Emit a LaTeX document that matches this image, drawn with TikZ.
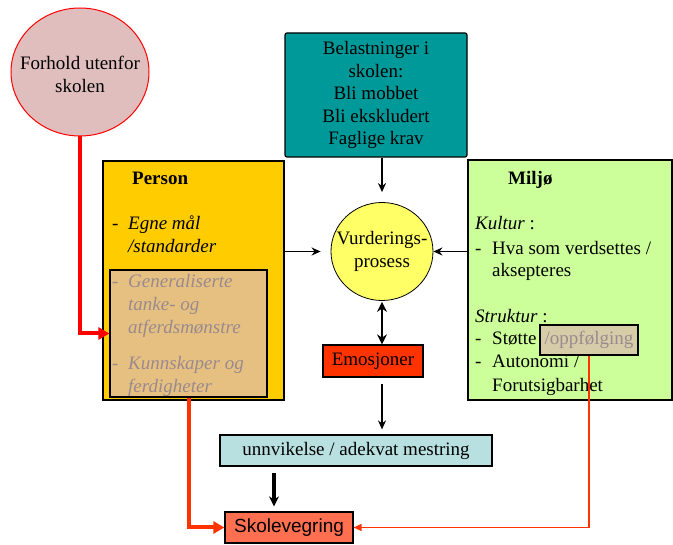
\documentclass[tikz,border=0pt]{standalone}
\usepackage{fontspec}
\setmainfont{Liberation Serif}
\newfontfamily\arialfont{Liberation Sans}
\usetikzlibrary{arrows.meta,shapes.geometric}

\definecolor{rosa}{HTML}{E0BEBE}
\definecolor{teal}{HTML}{009999}
\definecolor{gul}{HTML}{FFCC00}
\definecolor{brun}{HTML}{E6C080}
\definecolor{graatekst}{HTML}{9A8A90}
\definecolor{lysgronn}{HTML}{CCFF99}
\definecolor{beige}{HTML}{D6CCA8}
\definecolor{lysgul}{HTML}{FFFF66}
\definecolor{emorod}{HTML}{FF3300}
\definecolor{lysbla}{HTML}{B8E0E0}
\definecolor{laks}{HTML}{FF6F50}
\definecolor{orangerod}{HTML}{FF3300}

\begin{document}
\begin{tikzpicture}[
x=1pt, y=-1pt,
boks/.style={
  draw=black,
  line width=1.2pt,
  inner sep=0pt,
  font=\fontsize{19}{22.5}\selectfont
},
linje/.style={anchor=base west,inner sep=0pt,font=\fontsize{19}{22.5}\selectfont},
graa/.style={linje,text=graatekst,font=\fontsize{19}{22.5}\selectfont\itshape},
pil/.style={-{Stealth[length=9pt,width=8pt]},line width=1.8pt},
dobbelpil/.style={{Stealth[length=10pt,width=10pt]}-{Stealth[length=10pt,width=10pt]},line width=2.2pt},
tykkpil/.style={-{Stealth[length=10pt,width=10pt]},line width=4pt},
rodpil/.style={-{Triangle[length=11pt,width=12pt]},line width=4pt},
tynnpil/.style={-{Triangle[length=8pt,width=7pt]},line width=1.4pt,draw=orangerod}
]
\useasboundingbox (0,0) rectangle (673,545);

% ytre forhold
\node (ytre) at (80,72) [ellipse,draw=red,line width=1pt,fill=rosa,inner sep=0pt,
  minimum width=138,minimum height=128] {};
\node (ytretekst) at (80,74) [font=\fontsize{19}{23}\selectfont,align=center] {Forhold utenfor\\skolen};

% belastninger
\node (belast) at (376,95) [boks,fill=teal,rounded corners=2pt,minimum width=182,
  minimum height=124,align=center] {Belastninger i\\skolen:\\Bli mobbet\\Bli ekskludert\\Faglige krav};

% person
\node (person) at (193.5,280.5) [boks,fill=gul,minimum width=181,minimum height=239] {};
\node (gen) at (188.5,333.5) [boks,fill=brun,minimum width=157,minimum height=127] {};
\node (pnavn) at (132,185) [linje,font=\fontsize{19}{22.5}\selectfont\bfseries] {Person};
\node (pstrek1) at (112,230) [linje] {-};
\node (pmal1) at (128,230) [linje,font=\fontsize{19}{22.5}\selectfont\itshape] {Egne mål};
\node (pmal2) at (128,253) [linje,font=\fontsize{19}{22.5}\selectfont\itshape] {/standarder};
\node (gstrek1) at (112,288) [graa] {-};
\node (gen1) at (128,288) [graa] {Generaliserte};
\node (gen2) at (128,311) [graa] {tanke- og};
\node (gen3) at (128,334) [graa] {atferdsmønstre};
\node (gstrek2) at (112,370) [graa] {-};
\node (kunn1) at (128,370) [graa] {Kunnskaper og};
\node (kunn2) at (128,393) [graa] {ferdigheter};

% miljo
\node (miljo) at (570,280) [boks,fill=lysgronn,minimum width=204,minimum height=240] {};
\node (mnavn) at (508,185) [linje,font=\fontsize{19}{22.5}\selectfont\bfseries] {Miljø};
\node (kultur) at (475,230) [linje] {\textit{Kultur} :};
\node (mstrek1) at (475,255) [linje] {-};
\node (verdi1) at (492,255) [linje] {Hva som verdsettes /};
\node (verdi2) at (492,277) [linje] {aksepteres};
\node (struktur) at (475,323) [linje] {\textit{Struktur} :};
\node (mstrek2) at (475,345) [linje] {-};
\node (stotte) at (492,345) [linje] {Støtte};
\node (mstrek3) at (475,368) [linje] {-};
\node (auto1) at (492,368) [linje] {Autonomi /};
\node (auto2) at (492,392) [linje] {Forutsigbarhet};
\node (opp) at (589,340) [boks,fill=beige,minimum width=98,minimum height=30,
  text=graatekst] {/oppfølging};

% midten
\node (vurd) at (382,251.5) [ellipse,draw=black,line width=0.8pt,fill=lysgul,inner sep=0pt,
  minimum width=102,minimum height=98] {};
\node (vurdtekst) at (382,251.5) [font=\fontsize{19}{23}\selectfont,align=center] {Vurderings-\\prosess};
\node (emo) at (373,361) [boks,fill=emorod,minimum width=100,minimum height=32] {Emosjoner};
\node (unn) at (356,450.5) [boks,fill=lysbla,minimum width=272,minimum height=31] {unnvikelse / adekvat mestring};
\node (skole) at (289,527.5) [boks,fill=laks,minimum width=128,minimum height=31,
  font=\fontsize{19}{22.5}\arialfont] {Skolevegring};
\coordinate (tykk) at ([xshift=-15pt]skole.north);

\draw [pil,shorten >=10pt] (vurd.north |- belast.south) -- (vurd.north);
\draw [pil,shorten >=10pt] (person.east |- vurd.west) -- (vurd.west);
\draw [pil] (miljo.west |- vurd.east) -- (vurd.east);
\draw [dobbelpil,shorten <=1pt] (vurd.south) -- (vurd.south |- emo.north);
\draw [pil,shorten <=6pt,shorten >=5pt] (emo.south -| vurd.south) -- (vurd.south |- unn.north);
\draw [tykkpil,shorten <=6pt,shorten >=5pt] (tykk |- unn.south) -- (tykk);

\draw [rodpil,draw=red] (ytre.south) |- (gen.west);
\draw [rodpil,draw=orangerod] (gen.south) |- (skole.west);
\draw [tynnpil] (opp.south) |- (skole.east);

\end{tikzpicture}
\end{document}
